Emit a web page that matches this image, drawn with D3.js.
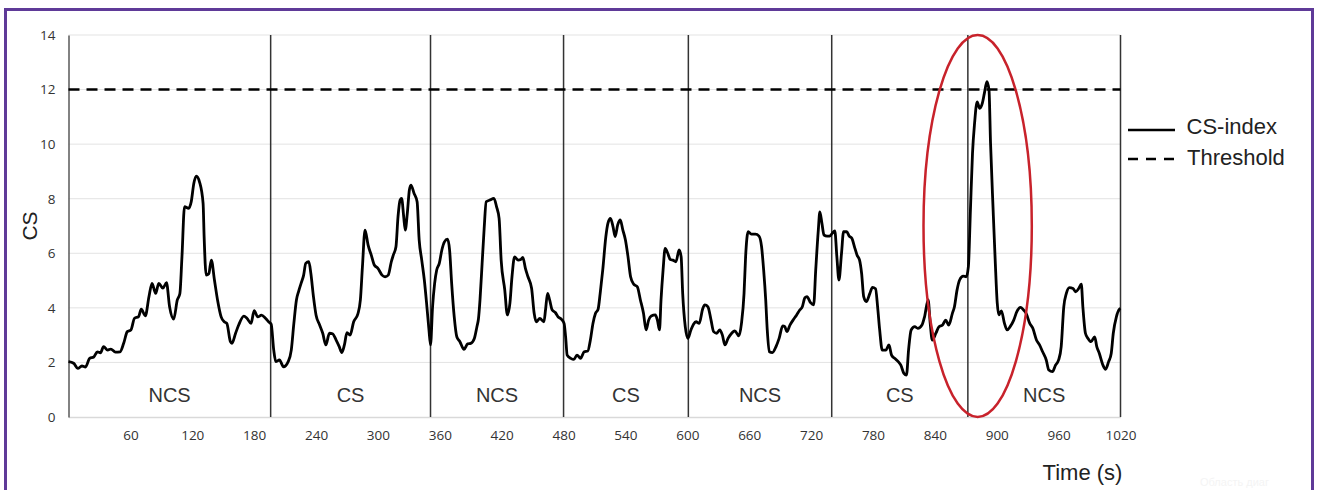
<!DOCTYPE html>
<html>
<head>
<meta charset="utf-8">
<script src="https://cdn.jsdelivr.net/npm/d3@7"></script>
<style>
  html, body { margin: 0; padding: 0; background: #fff; }
  svg { display: block; font-family: "Liberation Sans", Arial, sans-serif; }
  .tick text { font-family: "Open Sans", sans-serif; font-size: 13.5px; fill: #333; }
</style>
</head>
<body>
<div id="chart"></div>
<script>
// time in seconds, CS-index values
const times = [
  0, 5, 9, 13, 16.5, 20.5, 24.5, 28, 31, 34, 38, 41, 45.5, 50, 53.5, 57, 60.5, 64, 68, 70.5,
  74.5, 78, 81, 84.5, 87.5, 91.5, 95, 98, 102, 105.5, 108, 110, 112.5, 116.5, 119, 121.5, 124, 127, 130.5, 131.5,
  133.5, 136, 138.5, 141.5, 144.5, 148, 151, 153.5, 157, 158.5, 162, 165, 170, 173, 177, 180, 183.5, 187, 191, 194,
  196.5, 199, 201, 204.5, 208.5, 213, 216, 218.5, 221, 223, 225.5, 228, 230, 233, 235, 237.5, 240, 243.5, 246.5, 249.5,
  253, 256, 259.5, 262.5, 265, 267.5, 270, 273, 276.5, 280.5, 283, 285, 287.5, 290.5, 293.5, 296.5, 300, 304, 307, 310,
  313, 315, 317.5, 319.5, 321.5, 323, 325, 326.5, 328.5, 330.5, 332, 335, 338, 340, 342.5, 345, 347.5, 349.5, 351, 353,
  355, 357, 359.5, 362, 364.5, 367.5, 369.5, 371.5, 374, 376.5, 379.5, 383.5, 387, 390, 393.5, 396, 397.5, 399, 401, 403,
  405, 408.5, 412.5, 415, 417.5, 419.5, 423, 425.5, 428, 430, 432.5, 436, 438.5, 440.5, 443, 445.5, 449, 451.5, 453.5, 457,
  461, 462.5, 464.5, 466.5, 469, 472, 474.5, 478, 480.5, 482, 483.5, 487, 490, 493, 496.5, 500, 503.5, 506, 508.5, 511,
  513.5, 515.5, 518, 521, 523, 525.5, 528, 530, 532.5, 535, 537.5, 540, 542.5, 545, 548, 551.5, 554.5, 557.5, 560, 562.5,
  565, 569, 571, 573, 574.5, 576.5, 578.5, 581, 583.5, 586, 589, 592, 594, 595.5, 598, 600.5, 603.5, 606, 608.5, 611.5,
  615, 617, 620, 623, 625.5, 628.5, 631.5, 634, 636.5, 639.5, 643, 646, 650, 652.5, 655, 656.5, 659, 662, 666, 669.5,
  672, 674, 676, 677.5, 679.5, 682.5, 686, 689, 692.5, 694.5, 696.5, 699.5, 702.5, 706, 709, 711.5, 714, 716, 719.5, 722.5,
  724.5, 727, 728.5, 730.5, 732.5, 735.5, 738, 740.5, 743, 745, 747, 749.5, 751.5, 754.5, 757, 759.5, 762.5, 764.5, 767, 769,
  771, 773.5, 777, 779.5, 782.5, 784.5, 786.5, 789, 792.5, 795.5, 798, 801, 804.5, 807, 810, 812.5, 814.5, 817, 820.5, 823.5,
  827.5, 830, 833.5, 835.5, 837.5, 841, 844, 847.5, 850.5, 853.5, 857, 859, 861.5, 864, 867.5, 870.5, 872.5, 874.5, 876.5, 878.5,
  881, 883.5, 886, 888, 890.5, 892.5, 894, 896.5, 898.5, 900.5, 902, 904.5, 907.5, 910, 913, 916.5, 919.5, 923, 926, 928.5,
  932, 935, 938.5, 941.5, 944.5, 948, 950.5, 954, 957, 960, 962.5, 965, 967.5, 970.5, 974, 976.5, 979.5, 982, 983.5, 986,
  988.5, 991.5, 995, 997, 999.5, 1003, 1005.5, 1008.5, 1011, 1013, 1016, 1019, 1020
];
const csIndex = [
  2.03, 1.97, 1.78, 1.87, 1.83, 2.15, 2.2, 2.39, 2.35, 2.58, 2.45, 2.49, 2.38, 2.39, 2.7, 3.13, 3.19, 3.62, 3.68, 3.95,
  3.71, 4.41, 4.9, 4.53, 4.9, 4.72, 4.92, 4.04, 3.59, 4.29, 4.53, 5.87, 7.71, 7.65, 7.89, 8.56, 8.83, 8.62, 7.83, 6.61,
  5.2, 5.25, 5.75, 5.02, 4.29, 3.67, 3.49, 3.43, 2.76, 2.7, 3.07, 3.37, 3.7, 3.62, 3.43, 3.9, 3.67, 3.73, 3.62, 3.49,
  3.4, 2.45, 2.03, 2.09, 1.84, 2.03, 2.45, 3.43, 4.29, 4.59, 4.9, 5.2, 5.63, 5.69, 5.26, 4.41, 3.74, 3.37, 3.07, 2.64,
  3.07, 3.05, 2.82, 2.58, 2.36, 2.64, 3.09, 3.0, 3.49, 3.77, 4.29, 5.51, 6.85, 6.3, 5.94, 5.57, 5.45, 5.2, 5.14, 5.2,
  5.69, 5.94, 6.24, 7.34, 7.95, 8.01, 7.34, 6.85, 7.46, 8.32, 8.5, 8.2, 7.89, 6.49, 5.75, 5.02, 4.04, 3.19, 2.64, 4.04,
  4.9, 5.39, 5.63, 6.12, 6.42, 6.52, 6.12, 4.9, 3.67, 2.94, 2.76, 2.48, 2.68, 2.7, 2.88, 3.31, 3.6, 4.3, 5.6, 6.9,
  7.89, 7.95, 8.01, 7.71, 7.28, 5.75, 4.65, 3.74, 4.17, 5.14, 5.87, 5.75, 5.77, 5.85, 5.45, 5.14, 4.72, 3.8, 3.49, 3.61,
  3.49, 3.92, 4.53, 4.29, 3.92, 3.83, 3.68, 3.58, 3.43, 2.94, 2.27, 2.15, 2.11, 2.27, 2.15, 2.39, 2.42, 2.82, 3.43, 3.8,
  3.95, 4.53, 5.39, 6.61, 7.1, 7.28, 6.97, 6.61, 7.04, 7.22, 6.85, 6.49, 5.87, 5.14, 4.87, 4.77, 4.29, 3.8, 3.19, 3.55,
  3.7, 3.74, 3.55, 3.19, 4.29, 5.39, 6.18, 6.0, 5.77, 5.75, 5.69, 6.12, 5.87, 4.53, 3.31, 2.88, 3.19, 3.4, 3.49, 3.43,
  3.98, 4.11, 4.04, 3.55, 3.13, 3.07, 3.19, 3.0, 2.64, 2.88, 3.07, 3.16, 2.97, 3.43, 4.53, 5.87, 6.79, 6.7, 6.7, 6.63,
  6.24, 5.39, 4.29, 3.19, 2.39, 2.36, 2.58, 2.88, 3.34, 3.31, 3.13, 3.37, 3.55, 3.74, 3.92, 4.04, 4.37, 4.41, 4.19, 4.11,
  5.39, 6.85, 7.52, 7.1, 6.67, 6.63, 6.63, 6.73, 6.82, 5.87, 5.02, 6.0, 6.79, 6.79, 6.63, 6.55, 6.18, 5.94, 5.75, 5.26,
  4.41, 4.23, 4.53, 4.75, 4.7, 4.04, 3.19, 2.45, 2.45, 2.64, 2.27, 2.15, 2.03, 1.9, 1.6, 1.54, 2.45, 3.19, 3.31, 3.25,
  3.37, 3.67, 4.29, 3.43, 2.82, 3.07, 3.31, 3.37, 3.55, 3.37, 3.8, 4.04, 4.65, 5.02, 5.16, 5.14, 5.51, 7.59, 9.66, 10.76,
  11.55, 11.31, 11.49, 11.86, 12.29, 11.98, 10.03, 7.59, 5.75, 4.17, 3.74, 3.89, 3.43, 3.19, 3.31, 3.55, 3.86, 4.02, 3.92, 3.8,
  3.43, 3.25, 2.82, 2.64, 2.39, 2.09, 1.72, 1.66, 1.9, 2.09, 2.58, 4.04, 4.53, 4.74, 4.71, 4.59, 4.71, 4.87, 4.04, 3.07,
  2.88, 2.76, 2.94, 2.58, 2.33, 1.9, 1.75, 2.03, 2.33, 3.07, 3.67, 3.95, 3.98
];
const threshold = 12;
const phaseBounds = [0, 196, 351, 480, 601, 740, 872, 1020];
const phaseLabels = ["NCS", "CS", "NCS", "CS", "NCS", "CS", "NCS"];
const xTicks = [60, 120, 180, 240, 300, 360, 420, 480, 540, 600, 660, 720, 780, 840, 900, 960, 1020];
const yTicks = [0, 2, 4, 6, 8, 10, 12, 14];
const highlight = {from: 829, to: 934, low: 0, high: 14};

const width = 1322, height = 490;
const margin = {left: 68.5, right: 201.5, top: 35, bottom: 73};

const svg = d3.select("#chart").append("svg")
    .attr("width", width)
    .attr("height", height);

const x = d3.scaleLinear().domain([0, 1020]).range([margin.left, width - margin.right]);
const y = d3.scaleLinear().domain([0, 14]).range([height - margin.bottom, margin.top]);

// outer frame
svg.append("rect")
    .attr("x", 5.5).attr("y", 9.5)
    .attr("width", 1307).attr("height", 500)
    .attr("fill", "none")
    .attr("stroke", "#5f3a98")
    .attr("stroke-width", 3);

// gridlines
svg.append("g")
    .selectAll("line")
    .data(yTicks.filter(d => d > 0))
    .join("line")
    .attr("x1", x(0)).attr("x2", x(1020))
    .attr("y1", d => y(d)).attr("y2", d => y(d))
    .attr("stroke", "#e3e3e3")
    .attr("stroke-width", 1);

// x axis
const xAxis = svg.append("g")
    .attr("transform", `translate(0,${y(0)})`)
    .call(d3.axisBottom(x).tickValues(xTicks).tickSize(0).tickPadding(13).tickFormat(d3.format("d")));
xAxis.select(".domain").attr("stroke", "#d9d9d9").attr("stroke-width", 1.5);

// y axis
const yAxis = svg.append("g")
    .attr("transform", `translate(${x(0)},0)`)
    .call(d3.axisLeft(y).tickValues(yTicks).tickSize(0).tickPadding(13));
yAxis.select(".domain").attr("stroke", "#595959").attr("stroke-width", 1.5);

// phase separators
svg.append("g")
    .selectAll("line")
    .data(phaseBounds.slice(1))
    .join("line")
    .attr("x1", d => x(d)).attr("x2", d => x(d))
    .attr("y1", y(14)).attr("y2", y(0))
    .attr("stroke", "#333")
    .attr("stroke-width", 1.5);

// phase labels
svg.append("g")
    .selectAll("text")
    .data(phaseLabels)
    .join("text")
    .attr("x", (d, i) => x((phaseBounds[i] + phaseBounds[i + 1]) / 2))
    .attr("y", y(0) - 15.5)
    .attr("text-anchor", "middle")
    .attr("font-size", 20)
    .attr("fill", "#333")
    .text(d => d);

// threshold
svg.append("line")
    .attr("x1", x(0)).attr("x2", x(1020))
    .attr("y1", y(threshold)).attr("y2", y(threshold))
    .attr("stroke", "#000")
    .attr("stroke-width", 2.5)
    .attr("stroke-dasharray", "11,7");

// CS-index line
const line = d3.line()
    .x(d => x(d[0]))
    .y(d => y(d[1]))
    .curve(d3.curveMonotoneX);

svg.append("path")
    .datum(times.map((t, i) => [t, csIndex[i]]))
    .attr("d", line)
    .attr("fill", "none")
    .attr("stroke", "#000")
    .attr("stroke-width", 2.8)
    .attr("stroke-linejoin", "round");

// red ellipse around the threshold crossing
svg.append("ellipse")
    .attr("cx", (x(highlight.from) + x(highlight.to)) / 2)
    .attr("cy", (y(highlight.low) + y(highlight.high)) / 2)
    .attr("rx", (x(highlight.to) - x(highlight.from)) / 2)
    .attr("ry", (y(highlight.low) - y(highlight.high)) / 2)
    .attr("fill", "none")
    .attr("stroke", "#c8222b")
    .attr("stroke-width", 2.5);

// axis titles
svg.append("text")
    .attr("transform", "translate(37,226) rotate(-90)")
    .attr("text-anchor", "middle")
    .attr("font-size", 21)
    .attr("fill", "#222")
    .text("CS");

svg.append("text")
    .attr("x", 1082.5)
    .attr("y", 480)
    .attr("text-anchor", "middle")
    .attr("font-size", 22)
    .attr("fill", "#222")
    .text("Time (s)");

// legend
const legend = svg.append("g").attr("transform", "translate(1128,0)");
legend.append("line")
    .attr("x1", 0).attr("x2", 47).attr("y1", 130).attr("y2", 130)
    .attr("stroke", "#000").attr("stroke-width", 2.5);
legend.append("line")
    .attr("x1", 0).attr("x2", 47).attr("y1", 159).attr("y2", 159)
    .attr("stroke", "#000").attr("stroke-width", 2.5)
    .attr("stroke-dasharray", "10,8");
legend.append("text")
    .attr("x", 58.5).attr("y", 133.5)
    .attr("font-size", 22).attr("fill", "#222")
    .text("CS-index");
legend.append("text")
    .attr("x", 59).attr("y", 165)
    .attr("font-size", 22).attr("fill", "#222")
    .text("Threshold");

// faint tooltip remnant in the corner
svg.append("text")
    .attr("x", 1200).attr("y", 486)
    .attr("font-size", 11)
    .attr("fill", "#f4f4f4")
    .text("Область диаг");
</script>
</body>
</html>
